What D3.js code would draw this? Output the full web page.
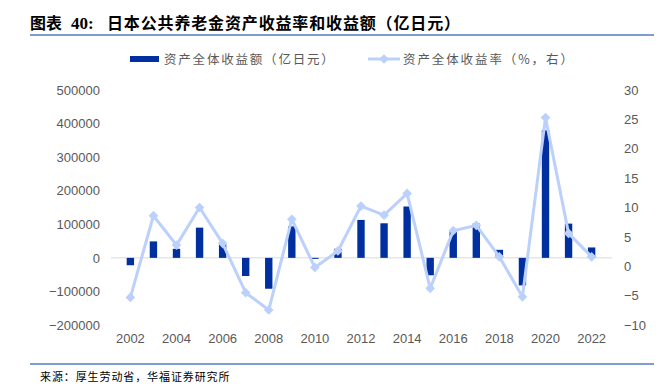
<!DOCTYPE html>
<html><head><meta charset="utf-8">
<script src="https://cdn.jsdelivr.net/npm/d3@7"></script>
<style>body{margin:0;background:#fff}svg{display:block}</style>
</head><body>
<svg id="c" width="661" height="388"></svg>
<script>
const years = [2002,2003,2004,2005,2006,2007,2008,2009,2010,2011,2012,2013,2014,2015,2016,2017,2018,2019,2020,2021,2022];
const amount = [-22000,49000,27000,90000,40000,-54000,-92000,94000,-3000,27000,113000,103000,153000,-52000,80000,102000,24000,-82000,380000,102000,31000];
const rate = [-5.3,8.6,3.6,10.0,3.9,-4.5,-7.45,8.0,-0.2,2.6,10.25,8.7,12.4,-3.76,6.05,6.96,1.6,-5.2,25.3,5.6,1.6];
const leftTicks = [-200000,-100000,0,100000,200000,300000,400000,500000];
const rightTicks = [-10,-5,0,5,10,15,20,25,30];
const xLabelYears = [2002,2004,2006,2008,2010,2012,2014,2016,2018,2020,2022];
const titleLabel = "图表";
const titleNum = "40:";
const title = "日本公共养老金资产收益率和收益额（亿日元）";
const legendBar = "资产全体收益额（亿日元）";
const legendLine = "资产全体收益率（%，右）";
const source = "来源：厚生劳动省，华福证券研究所";

const svg = d3.select("#c");
const cjk = "'Noto Sans CJK SC', sans-serif";
const num = "'Liberation Sans', Arial, sans-serif";
const serif = "'Liberation Serif', 'DejaVu Serif', serif";
const gray = "#595959";
const barColor = "#0030a0";
const lineColor = "#bcd0fc";

// title
svg.append("text").attr("x",30).attr("y",29).attr("font-family",cjk).attr("font-weight","bold")
  .attr("font-size",16).attr("fill","#000").text(titleLabel);
svg.append("text").attr("x",71).attr("y",29).attr("font-family",serif).attr("font-weight","bold")
  .attr("font-size",17).attr("fill","#000").text(titleNum);
svg.append("text").attr("x",107).attr("y",29).attr("font-family",cjk).attr("font-weight","bold")
  .attr("font-size",16).attr("letter-spacing",0.85).attr("fill","#000").text(title);
svg.append("line").attr("x1",30).attr("x2",654).attr("y1",35).attr("y2",35).attr("stroke","#7f9cd0").attr("stroke-width",2);
svg.append("line").attr("x1",30).attr("x2",654).attr("y1",364).attr("y2",364).attr("stroke","#7f9cd0").attr("stroke-width",2);
svg.append("text").attr("x",40).attr("y",381).attr("font-family",cjk).attr("font-size",11)
  .attr("letter-spacing",0.9).attr("fill","#000").text(source);

const x = d3.scaleBand().domain(years).range([111,611]).padding(0.68);
const yL = d3.scaleLinear().domain([-200000,500000]).range([325,90]);
const yR = d3.scaleLinear().domain([-10,30]).range([325,90]);

// left axis
const axL = d3.axisLeft(yL).tickValues(leftTicks).tickSize(0).tickPadding(0).tickFormat(d => d3.format("d")(d).replace("-","−"));
const gL = svg.append("g").attr("transform","translate(100,0)").call(axL);
gL.select(".domain").remove();
gL.selectAll("text").attr("font-family",num).attr("font-size",13).attr("fill",gray);

const axR = d3.axisRight(yR).tickValues(rightTicks).tickSize(0).tickPadding(0).tickFormat(d => String(d).replace("-","−"));
const gR = svg.append("g").attr("transform","translate(624,0)").call(axR);
gR.select(".domain").remove();
gR.selectAll("text").attr("font-family",num).attr("font-size",13).attr("fill",gray);

// x axis labels
const axX = d3.axisBottom(x).tickValues(xLabelYears).tickSize(0).tickPadding(0);
const gX = svg.append("g").attr("transform","translate(0,334)").call(axX);
gX.select(".domain").remove();
gX.selectAll("text").attr("font-family",num).attr("font-size",13).attr("fill",gray);

// zero line
svg.append("line").attr("x1",111).attr("x2",612).attr("y1",yL(0)).attr("y2",yL(0)).attr("stroke","#d9d9d9").attr("stroke-width",1);

// bars
svg.append("g").selectAll("rect").data(years).join("rect")
  .attr("x", d => x(d)).attr("width", x.bandwidth())
  .attr("y", (d,i) => Math.min(yL(amount[i]), yL(0)))
  .attr("height", (d,i) => Math.abs(yL(amount[i]) - yL(0)))
  .attr("fill", barColor);

// line
const cx = d => x(d) + x.bandwidth()/2;
const line = d3.line().x((d,i) => cx(years[i])).y(d => yR(d));
svg.append("path").datum(rate).attr("d",line).attr("fill","none").attr("stroke",lineColor).attr("stroke-width",3).attr("stroke-linejoin","round");
const diamond = d3.symbol().type(d3.symbolDiamond2).size(60);
svg.append("g").selectAll("path").data(rate).join("path")
  .attr("d", diamond)
  .attr("transform", (d,i) => `translate(${cx(years[i])},${yR(d)})`)
  .attr("fill", lineColor);

// legend
svg.append("rect").attr("x",130).attr("y",56).attr("width",29).attr("height",6).attr("fill",barColor);
svg.append("text").attr("x",164).attr("y",64).attr("font-family",cjk).attr("font-size",12.5).attr("letter-spacing",1.8).attr("fill",gray).text(legendBar);
svg.append("line").attr("x1",368).attr("x2",400).attr("y1",59).attr("y2",59).attr("stroke",lineColor).attr("stroke-width",3);
svg.append("path").attr("d",diamond).attr("transform","translate(384,59)").attr("fill",lineColor);
svg.append("text").attr("x",403).attr("y",64).attr("font-family",cjk).attr("font-size",12.5).attr("letter-spacing",1.9).attr("fill",gray).text(legendLine);
</script>
</body></html>
